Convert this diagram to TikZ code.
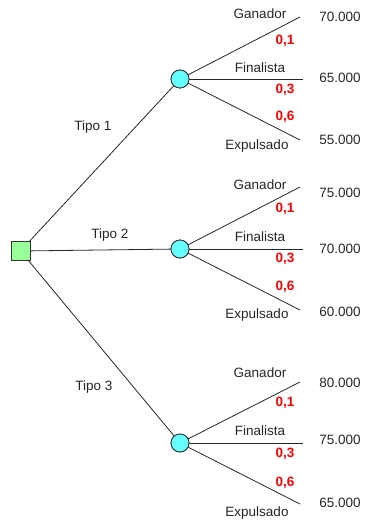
\documentclass[tikz,border=0pt]{standalone}
\usepackage{fontspec}
\setmainfont{Liberation Sans}
\begin{document}
\begin{tikzpicture}[x=1pt,y=-1pt,
  every node/.style={inner sep=0pt},
  edge/.style={draw=black!85, line width=0.8pt},
  decbox/.style={draw=black!80, line width=0.8pt, fill=green!40!white, fill=ltgreen, minimum size=19pt, rectangle},
  chance/.style={draw=black!80, line width=0.8pt, fill=ltcyan, circle, minimum size=18pt},
  lbl/.style={font=\fontsize{13.5}{15}\selectfont, text=black!85},
  prob/.style={font=\fontsize{13.5}{15}\selectfont\bfseries, text=red},
  val/.style={font=\fontsize{13.5}{15}\selectfont, text=black!85}]
\definecolor{ltgreen}{RGB}{153,255,153}
\definecolor{ltcyan}{RGB}{102,255,255}
\useasboundingbox (0,0) rectangle (368,523);

\node[decbox] (sq) at (20.5,251) {};
\node[chance] (c1) at (180,79) {};
\node[chance] (c2) at (180,249) {};
\node[chance] (c3) at (180,443) {};

\draw[edge] (sq) -- (c1);
\draw[edge] (sq) -- (c2);
\draw[edge] (sq) -- (c3);

\node[lbl] (t1) at (93,127) {Tipo 1};
\node[lbl] (t2) at (110,235) {Tipo 2};
\node[lbl] (t3) at (94,387) {Tipo 3};

% tree 1
\coordinate (a1) at (300,17);
\coordinate (a2) at (303,79);
\coordinate (a3) at (300,140);
\draw[edge] (c1.center) -- (a1);
\draw[edge] (c1.east) -- (a2);
\draw[edge] (c1.center) -- (a3);
\node[lbl] (ag) at (260,14) {Ganador};
\node[prob] (ap1) at (285,41) {0,1};
\node[lbl] (af) at (260,68) {Finalista};
\node[prob] (ap3) at (285,90) {0,3};
\node[prob] (ap6) at (285,117) {0,6};
\node[lbl] (ae) at (257,146) {Expulsado};
\node[val] (av1) at (340,17) {70.000};
\node[val] (av2) at (340,78) {65.000};
\node[val] (av3) at (340,140) {55.000};

% tree 2
\coordinate (b1) at (300,187);
\coordinate (b2) at (303,249);
\coordinate (b3) at (300,310);
\draw[edge] (c2.center) -- (b1);
\draw[edge] (c2.east) -- (b2);
\draw[edge] (c2.center) -- (b3);
\node[lbl] (bg) at (260,185) {Ganador};
\node[prob] (bp1) at (285,209) {0,1};
\node[lbl] (bf) at (260,237) {Finalista};
\node[prob] (bp3) at (285,259) {0,3};
\node[prob] (bp6) at (285,287) {0,6};
\node[lbl] (be) at (257,315) {Expulsado};
\node[val] (bv1) at (340,193) {75.000};
\node[val] (bv2) at (340,249) {70.000};
\node[val] (bv3) at (340,312) {60.000};

% tree 3
\coordinate (d1) at (300,382);
\coordinate (d2) at (303,443);
\coordinate (d3) at (300,504);
\draw[edge] (c3.center) -- (d1);
\draw[edge] (c3.east) -- (d2);
\draw[edge] (c3.center) -- (d3);
\node[lbl] (dg) at (260,373) {Ganador};
\node[prob] (dp1) at (285,403) {0,1};
\node[lbl] (df) at (260,431) {Finalista};
\node[prob] (dp3) at (285,454) {0,3};
\node[prob] (dp6) at (285,483) {0,6};
\node[lbl] (de) at (257,513) {Expulsado};
\node[val] (dv1) at (340,383) {80.000};
\node[val] (dv2) at (340,440) {75.000};
\node[val] (dv3) at (340,503) {65.000};

% redraw circles on top
\node[chance] at (c1) {};
\node[chance] at (c2) {};
\node[chance] at (c3) {};
\end{tikzpicture}
\end{document}
